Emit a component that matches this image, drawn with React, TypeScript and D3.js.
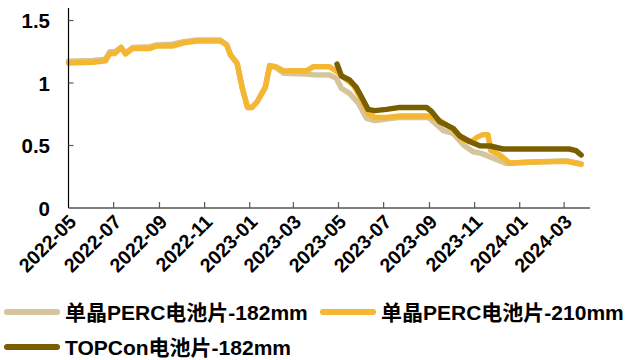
import React from "react";
import * as d3 from "d3";

// 单晶PERC电池片-182mm
const perc182Dates = [
  "2022-05-01", "2022-06-03", "2022-06-20", "2022-06-26", "2022-07-03", "2022-07-11",
  "2022-07-17", "2022-07-27", "2022-08-19", "2022-08-28", "2022-09-18", "2022-10-04",
  "2022-10-22", "2022-11-22", "2022-12-01", "2022-12-06", "2022-12-15", "2022-12-22",
  "2022-12-29", "2023-01-04", "2023-01-11", "2023-01-22", "2023-01-28", "2023-02-05",
  "2023-02-16", "2023-03-19", "2023-03-28", "2023-04-19", "2023-04-28", "2023-05-05",
  "2023-05-16", "2023-05-28", "2023-06-08", "2023-06-19", "2023-07-05", "2023-07-23",
  "2023-08-31", "2023-09-11", "2023-09-20", "2023-10-03", "2023-10-17", "2023-10-30",
  "2023-11-10", "2023-11-27", "2023-12-14", "2023-12-28", "2024-03-04", "2024-03-24",
];
const perc182Values = [
  1.175, 1.18, 1.19, 1.25, 1.25, 1.285,
  1.24, 1.285, 1.29, 1.305, 1.31, 1.33,
  1.345, 1.345, 1.304, 1.224, 1.157, 0.957,
  0.805, 0.805, 0.85, 0.965, 1.139, 1.125,
  1.078, 1.072, 1.066, 1.064, 1.037, 0.957,
  0.917, 0.837, 0.717, 0.699, 0.712, 0.725,
  0.725, 0.664, 0.619, 0.597, 0.504, 0.45,
  0.437, 0.397, 0.357, 0.362, 0.378, 0.355,
];

// 单晶PERC电池片-210mm
const perc210Dates = [
  "2022-05-01", "2022-06-03", "2022-06-20", "2022-06-26", "2022-07-03", "2022-07-11",
  "2022-07-17", "2022-07-27", "2022-08-19", "2022-08-28", "2022-09-18", "2022-10-04",
  "2022-10-22", "2022-11-22", "2022-12-01", "2022-12-06", "2022-12-15", "2022-12-22",
  "2022-12-29", "2023-01-04", "2023-01-11", "2023-01-22", "2023-01-28", "2023-02-05",
  "2023-02-16", "2023-02-27", "2023-03-19", "2023-03-28", "2023-04-19", "2023-04-29",
  "2023-05-07", "2023-05-21", "2023-05-30", "2023-06-10", "2023-06-19", "2023-07-05",
  "2023-07-23", "2023-08-31", "2023-09-15", "2023-10-03", "2023-10-17", "2023-10-28",
  "2023-11-04", "2023-11-12", "2023-11-19", "2023-11-23", "2023-12-05", "2023-12-19",
  "2023-12-28", "2024-01-19", "2024-03-04", "2024-03-24",
];
const perc210Values = [
  1.16, 1.166, 1.178, 1.237, 1.237, 1.285,
  1.232, 1.277, 1.277, 1.296, 1.296, 1.322,
  1.336, 1.336, 1.304, 1.224, 1.157, 0.957,
  0.805, 0.805, 0.85, 0.965, 1.139, 1.131,
  1.096, 1.099, 1.099, 1.13, 1.13, 1.09,
  1.05, 0.984, 0.89, 0.757, 0.725, 0.725,
  0.736, 0.736, 0.7, 0.629, 0.544, 0.53,
  0.565, 0.587, 0.587, 0.459, 0.424, 0.357,
  0.362, 0.368, 0.373, 0.349,
];

// TOPCon电池片-182mm
const topconDates = [
  "2023-04-29", "2023-05-05", "2023-05-16", "2023-05-25", "2023-06-01", "2023-06-10",
  "2023-06-19", "2023-07-05", "2023-07-23", "2023-08-28", "2023-09-04", "2023-09-15",
  "2023-10-03", "2023-10-12", "2023-10-26", "2023-11-08", "2023-11-22", "2023-12-09",
  "2024-03-08", "2024-03-17", "2024-03-24",
];
const topconValues = [
  1.152, 1.056, 1.024, 0.965, 0.89, 0.789,
  0.779, 0.789, 0.805, 0.805, 0.771, 0.69,
  0.637, 0.576, 0.53, 0.498, 0.496, 0.472,
  0.472, 0.459, 0.424,
];

const xTickLabels = [
  "2022-05", "2022-07", "2022-09", "2022-11", "2023-01", "2023-03",
  "2023-05", "2023-07", "2023-09", "2023-11", "2024-01", "2024-03",
];
const yTicks = [0, 0.5, 1, 1.5];

const seriesNames = ["单晶PERC电池片-182mm", "单晶PERC电池片-210mm", "TOPCon电池片-182mm"];
const seriesColors = ["#D5C49C", "#F5B731", "#7A5F00"];

const W = 627;
const H = 360;
const left = 68.5;
const right = 590;
const top = 8;
const bottom = 208;

const FONT = "'Liberation Sans', Arial, 'Noto Sans CJK SC', sans-serif";

const parse = d3.utcParse("%Y-%m-%d");
const parseMonth = d3.utcParse("%Y-%m");

type Pt = { d: Date; v: number };
const zip = (ds: string[], vs: number[]): Pt[] => ds.map((s, i) => ({ d: parse(s) as Date, v: vs[i] }));

const seriesData: Pt[][] = [
  zip(perc182Dates, perc182Values),
  zip(perc210Dates, perc210Values),
  zip(topconDates, topconValues),
];

export default function App() {
  const x = d3
    .scaleUtc()
    .domain([parse("2022-05-01") as Date, parse("2024-04-05") as Date])
    .range([left, right]);
  const y = d3.scaleLinear().domain([0, 1.6]).range([bottom, top]);

  const line = d3
    .line<Pt>()
    .x((p) => x(p.d))
    .y((p) => y(p.v))
    .curve(d3.curveLinear);

  const tickDates = xTickLabels.map((s) => parseMonth(s) as Date);

  const legendItems = [
    { i: 0, sx: 4, ty: 312 },
    { i: 1, sx: 320, ty: 312 },
    { i: 2, sx: 4, ty: 347 },
  ];

  return (
    <svg
      width={W}
      height={H}
      style={{ position: "absolute", left: 0, top: 0, background: "#fff" }}
      fontFamily={FONT}
    >
      {/* series lines */}
      {seriesData.map((pts, i) => (
        <path
          key={i}
          d={line(pts) || ""}
          fill="none"
          stroke={seriesColors[i]}
          strokeWidth={5.5}
          strokeLinejoin="round"
          strokeLinecap="round"
        />
      ))}

      {/* y axis */}
      <line x1={left} x2={left} y1={top} y2={bottom} stroke="#000" strokeWidth={1.2} />
      {yTicks.map((t) => (
        <g key={t}>
          {t > 0 && <line x1={left} x2={left + 5} y1={y(t)} y2={y(t)} stroke="#595959" strokeWidth={1.2} />}
          <text
            x={50}
            y={y(t)}
            textAnchor="end"
            dominantBaseline="central"
            fontSize={20.5}
            fontWeight="bold"
            fill="#000"
          >
            {String(t)}
          </text>
        </g>
      ))}

      {/* x axis */}
      <line x1={left} x2={right} y1={bottom} y2={bottom} stroke="#000" strokeWidth={1.2} />
      {tickDates.map((d, i) => (
        <g key={i}>
          {i > 0 && (
            <line x1={x(d)} x2={x(d)} y1={bottom} y2={bottom - 6} stroke="#595959" strokeWidth={1.2} />
          )}
          <text
            transform={`translate(${x(d) + 9},${bottom + 15}) rotate(-45)`}
            textAnchor="end"
            fontSize={19.5}
            fontWeight="bold"
            fill="#000"
          >
            {xTickLabels[i]}
          </text>
        </g>
      ))}

      {/* legend */}
      {legendItems.map(({ i, sx, ty }) => (
        <g key={i}>
          <line
            x1={sx + 3}
            x2={sx + 53}
            y1={ty}
            y2={ty}
            stroke={seriesColors[i]}
            strokeWidth={6}
            strokeLinecap="round"
          />
          <text x={sx + 61} y={ty} dominantBaseline="central" fontSize={21} fontWeight="bold" fill="#000">
            {seriesNames[i]}
          </text>
        </g>
      ))}
    </svg>
  );
}
